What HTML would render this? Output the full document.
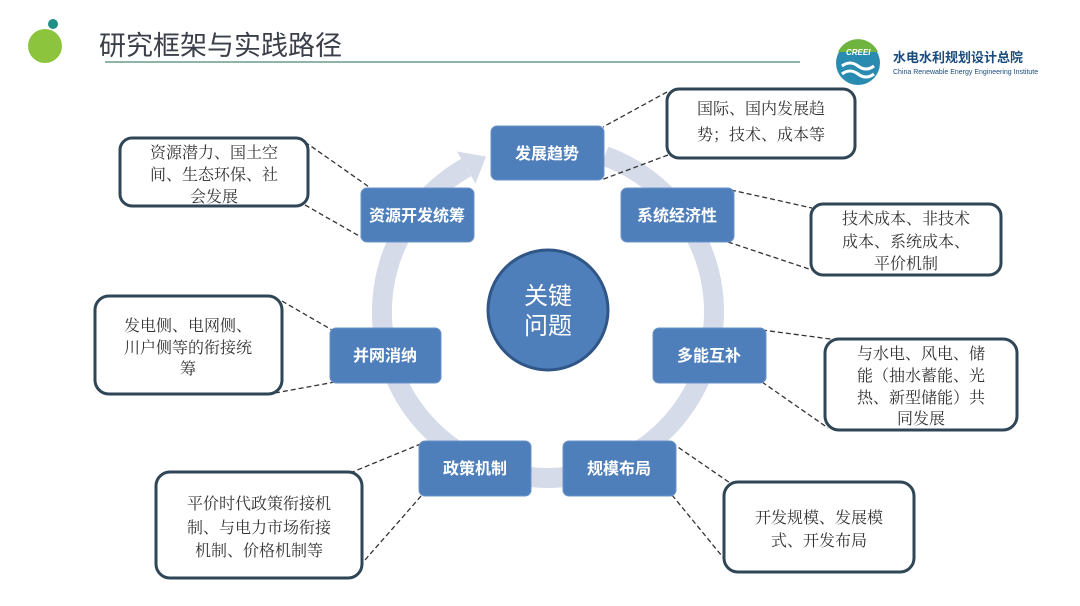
<!DOCTYPE html>
<html><head><meta charset="utf-8"><style>
html,body{margin:0;padding:0;background:#fff;}
svg{display:block;}
.n{font-family:"Liberation Sans","Noto Sans CJK SC",sans-serif;font-size:16px;font-weight:bold;fill:#fff;text-anchor:middle;}
.t{font-family:"Liberation Serif","Noto Serif CJK SC","Noto Serif CJK JP",serif;font-size:16px;fill:#333;text-anchor:middle;}
</style></head><body>
<svg width="1080" height="606" viewBox="0 0 1080 606" xmlns="http://www.w3.org/2000/svg">
<rect width="1080" height="606" fill="#fff"/>
<!-- header -->
<circle cx="45" cy="46" r="17" fill="#8cc43e"/>
<circle cx="53" cy="24" r="5" fill="#1f8f88"/>
<text x="99" y="55" font-family="Liberation Sans,'Noto Sans CJK SC',sans-serif" font-size="27" fill="#3a3f4a">研究框架与实践路径</text>
<line x1="105" y1="62" x2="800" y2="62" stroke="#8fb5a6" stroke-width="2"/>
<circle cx="858" cy="63" r="22" fill="#2a8bb0"/>
<path d="M842 66 q8 -6 16 0 t16 0" stroke="#fff" stroke-width="3" fill="none"/>
<path d="M842 74 q8 -6 16 0 t16 0" stroke="#fff" stroke-width="3" fill="none"/>
<path d="M838 52 a22 22 0 0 1 40 0z" fill="#6fb43f"/>
<text x="846" y="55" font-family="Liberation Sans,sans-serif" font-size="8" font-style="italic" font-weight="bold" fill="#fff">CREEI</text>
<text x="893" y="62" font-family="Liberation Sans,'Noto Sans CJK SC',sans-serif" font-size="13" font-weight="bold" fill="#1b4c7e">水电水利规划设计总院</text>
<text x="893" y="74" font-family="Liberation Sans,sans-serif" font-size="7" fill="#1b4c7e">China Renewable Energy Engineering Institute</text>

<!-- ring -->
<path d="M604.8 156 A166 166 0 1 1 466.2 167.5" fill="none" stroke="#d5dbe9" stroke-width="20"/>
<polygon points="486,156.5 457,151.5 475.5,183.5" fill="#d5dbe9"/>

<!-- center -->
<circle cx="548" cy="310" r="60" fill="#4f7fba" stroke="#2f5687" stroke-width="3"/>
<text x="548" y="304" font-family="Liberation Sans,'Noto Sans CJK SC',sans-serif" font-size="24" fill="#fff" text-anchor="middle">关键</text>
<text x="548" y="334" font-family="Liberation Sans,'Noto Sans CJK SC',sans-serif" font-size="24" fill="#fff" text-anchor="middle">问题</text>

<!-- dashed connectors -->
<g stroke="#333" stroke-width="1.3" stroke-dasharray="5,3" fill="none">
<line x1="667" y1="92" x2="603" y2="127"/><line x1="668" y1="155" x2="601" y2="180"/>
<line x1="305" y1="142" x2="372" y2="189"/><line x1="305" y1="205" x2="368" y2="241"/>
<line x1="731" y1="190" x2="812" y2="208"/><line x1="728" y1="242" x2="812" y2="270"/>
<line x1="282" y1="301" x2="332" y2="330"/><line x1="275" y1="393" x2="335" y2="382"/>
<line x1="762" y1="330" x2="838" y2="340"/><line x1="762" y1="382" x2="828" y2="428"/>
<line x1="350" y1="473" x2="423" y2="443"/><line x1="365" y1="560" x2="422" y2="495"/>
<line x1="672" y1="443" x2="733" y2="485"/><line x1="672" y1="495" x2="735" y2="572"/>
</g>

<!-- nodes -->
<g fill="#4f7fba" stroke="#6a93c8" stroke-width="1">
<rect x="491" y="126" width="113" height="54" rx="6"/>
<rect x="361" y="188" width="113" height="54" rx="6"/>
<rect x="621" y="188" width="113" height="54" rx="6"/>
<rect x="330" y="328" width="111" height="55" rx="6"/>
<rect x="653" y="328" width="113" height="55" rx="6"/>
<rect x="419" y="441" width="112" height="55" rx="6"/>
<rect x="563" y="441" width="113" height="55" rx="6"/>
</g>
<text class="n" x="547" y="159">发展趋势</text>
<text class="n" x="417" y="221">资源开发统筹</text>
<text class="n" x="677" y="221">系统经济性</text>
<text class="n" x="385" y="361">并网消纳</text>
<text class="n" x="709" y="361">多能互补</text>
<text class="n" x="475" y="474">政策机制</text>
<text class="n" x="619" y="474">规模布局</text>

<!-- callouts -->
<g fill="#fff" stroke="#2f4656" stroke-width="3">
<rect x="667" y="89" width="188" height="69" rx="12"/>
<rect x="120" y="138" width="188" height="68" rx="12"/>
<rect x="811" y="204" width="190" height="71" rx="12"/>
<rect x="95" y="296" width="187" height="98" rx="14"/>
<rect x="825" y="339" width="192" height="91" rx="14"/>
<rect x="156" y="472" width="206" height="106" rx="14"/>
<rect x="724" y="482" width="190" height="90" rx="14"/>
</g>
<text class="t" x="761" y="114">国际、国内发展趋</text>
<text class="t" x="761" y="140">势；技术、成本等</text>
<text class="t" x="214" y="158">资源潜力、国土空</text>
<text class="t" x="214" y="180">间、生态环保、社</text>
<text class="t" x="214" y="202">会发展</text>
<text class="t" x="906" y="224">技术成本、非技术</text>
<text class="t" x="906" y="247">成本、系统成本、</text>
<text class="t" x="906" y="269">平价机制</text>
<text class="t" x="188" y="331">发电侧、电网侧、</text>
<text class="t" x="188" y="353">川户侧等的衔接统</text>
<text class="t" x="188" y="374">筹</text>
<text class="t" x="921" y="359">与水电、风电、储</text>
<text class="t" x="921" y="381">能（抽水蓄能、光</text>
<text class="t" x="921" y="403">热、新型储能）共</text>
<text class="t" x="921" y="424">同发展</text>
<text class="t" x="259" y="509">平价时代政策衔接机</text>
<text class="t" x="259" y="533">制、与电力市场衔接</text>
<text class="t" x="259" y="556">机制、价格机制等</text>
<text class="t" x="819" y="523">开发规模、发展模</text>
<text class="t" x="819" y="546">式、开发布局</text>
</svg>
</body></html>
